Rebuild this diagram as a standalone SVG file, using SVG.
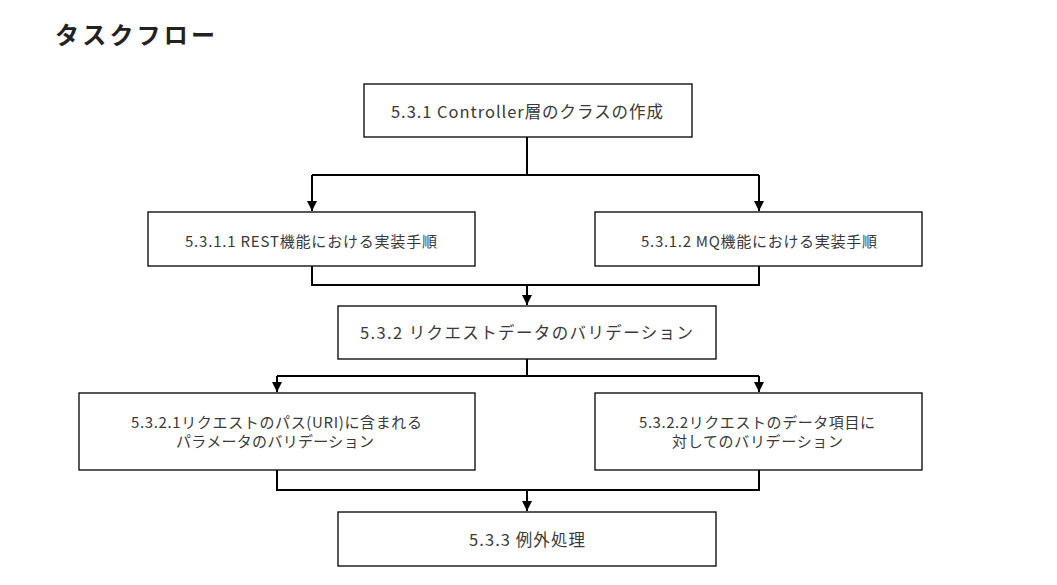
<svg xmlns="http://www.w3.org/2000/svg" width="1057" height="585" viewBox="0 0 1057 585">
<defs>
<marker id="arr" markerWidth="10" markerHeight="10" refX="10" refY="5" orient="auto" markerUnits="userSpaceOnUse" viewBox="0 0 10 10">
<path d="M0,0 L10,5 L0,10 Z" fill="#000"/>
</marker>
<style>
.box{fill:#fff;stroke:#000;stroke-width:1.3}
.t{font-family:"Noto Sans CJK JP","Noto Sans",sans-serif;font-size:15px;fill:#3a3a3a;text-anchor:middle;dominant-baseline:central}
.t1{font-size:16.5px}
.ln{fill:none;stroke:#000;stroke-width:2}
</style>
</defs>
<rect width="1057" height="585" fill="#fff"/>
<text x="55" y="44" font-family="'Noto Sans CJK JP',sans-serif" font-size="24" font-weight="bold" fill="#222" textLength="160" lengthAdjust="spacing">タスクフロー</text>
<g id="connectors">
<path class="ln" d="M527,137 V175 M312,175 H759"/>
<path class="ln" d="M312,175 V211" marker-end="url(#arr)"/>
<path class="ln" d="M759,175 V211" marker-end="url(#arr)"/>
<path class="ln" d="M312,266 V285 H759 V266"/>
<path class="ln" d="M527,285 V305" marker-end="url(#arr)"/>
<path class="ln" d="M527,359 V376 M277,376 H759"/>
<path class="ln" d="M277,376 V392" marker-end="url(#arr)"/>
<path class="ln" d="M759,376 V392" marker-end="url(#arr)"/>
<path class="ln" d="M277,470 V490 H759 V470"/>
<path class="ln" d="M527,490 V511" marker-end="url(#arr)"/>
</g>
<g id="n1"><rect class="box" x="364" y="84" width="328" height="53"/><text class="t t1" x="527" y="111" textLength="272" lengthAdjust="spacing">5.3.1 Controller層のクラスの作成</text></g>
<g id="n2"><rect class="box" x="148" y="212" width="327" height="54"/><text class="t" x="311" y="240" textLength="252" lengthAdjust="spacing">5.3.1.1 REST機能における実装手順</text></g>
<g id="n3"><rect class="box" x="595" y="212" width="327" height="54"/><text class="t" x="759" y="240" textLength="236" lengthAdjust="spacing">5.3.1.2 MQ機能における実装手順</text></g>
<g id="n4"><rect class="box" x="338" y="306" width="378" height="53"/><text class="t t1" x="526.5" y="332" textLength="333" lengthAdjust="spacing">5.3.2 リクエストデータのバリデーション</text></g>
<g id="n5"><rect class="box" x="79" y="393" width="396" height="77"/><text class="t" x="276.5" y="421" textLength="291" lengthAdjust="spacing">5.3.2.1リクエストのパス(URI)に含まれる</text><text class="t" x="275" y="440" textLength="198" lengthAdjust="spacing">パラメータのバリデーション</text></g>
<g id="n6"><rect class="box" x="595" y="393" width="327" height="77"/><text class="t" x="757" y="421" textLength="236" lengthAdjust="spacing">5.3.2.2リクエストのデータ項目に</text><text class="t" x="757.5" y="440" textLength="171" lengthAdjust="spacing">対してのバリデーション</text></g>
<g id="n7"><rect class="box" x="338" y="512" width="378" height="54"/><text class="t t1" x="527" y="539" textLength="116" lengthAdjust="spacing">5.3.3 例外処理</text></g>
</svg>
